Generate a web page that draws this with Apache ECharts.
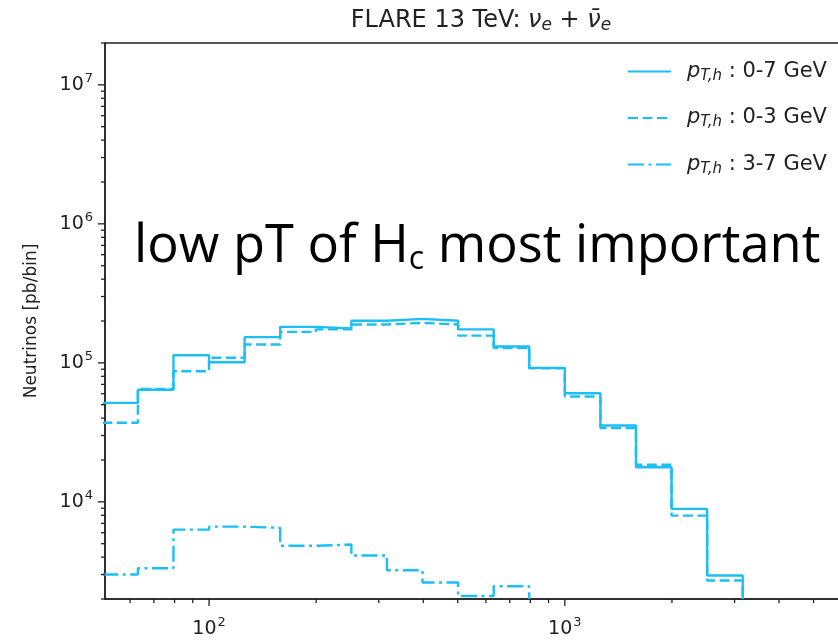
<!DOCTYPE html>
<html><head><meta charset="utf-8">
<script src="https://cdn.jsdelivr.net/npm/echarts@6/dist/echarts.min.js"></script>
<style>html,body{margin:0;padding:0;background:#fff;overflow:hidden}#c{width:838px;height:644px}</style>
</head><body><div id="c"></div>
<script>
// ---- data ----
const binEdges = [50.12, 63.10, 79.43, 100.0, 125.9, 158.5, 199.5, 251.2, 316.2, 398.1, 501.2, 631.0, 794.3, 1000, 1259, 1585, 1995, 2512, 3162];
const pt07 = [51500, 64000, 113500, 101000, 153000, 181500, 177000, 201000, 207000, 201000, 174000, 131000, 92000, 60400, 35400, 17750, 8900, 2950];
const pt03 = [37100, 65000, 87000, 108700, 135500, 167000, 174000, 188700, 194000, 188700, 157000, 128000, 91500, 57300, 34000, 18500, 7960, 2720];
const pt37 = [3000, 3330, 6310, 6630, 6500, 4830, 4930, 4110, 3220, 2630, 2100, 2470];
const seriesNames = ['pT,h : 0-7 GeV', 'pT,h : 0-3 GeV', 'pT,h : 3-7 GeV'];
const rangeLabels = ['0-7 GeV', '0-3 GeV', '3-7 GeV'];
const xRange = [51, 6250];
const yRange = [2000, 2e7];
const xMajorTicks = [100, 1000];
const xMinorTicks = [60, 70, 80, 90, 200, 300, 400, 500, 600, 700, 800, 900, 2000, 3000, 4000, 5000, 6000];
const yMajorTicks = [1e4, 1e5, 1e6, 1e7];
const yMinorMantissa = [2, 3, 4, 5, 6, 7, 8, 9];
const yDecades = [1e3, 1e4, 1e5, 1e6, 1e7];

// ---- helpers ----
const COLOR = '#1cbff3';
const AXC = '#222';
function stepData(vals) {
  const d = vals.map((v, i) => [binEdges[i], v]);
  d.push([binEdges[vals.length], yRange[0]]);
  return d;
}
function decadeLabel(v) {
  const l = Math.log10(v), e = Math.round(l);
  if (Math.abs(l - e) > 1e-6) return '';
  return '{b|10}{s|' + e + '}';
}
const yMinorTicks = [];
yDecades.forEach(d => yMinorMantissa.forEach(m => {
  const v = m * d;
  if (v >= yRange[0] && v <= yRange[1]) yMinorTicks.push(v);
}));
const xTickData = xMajorTicks.map(v => [v, yRange[0], 1]).concat(xMinorTicks.filter(v => v >= xRange[0] && v <= xRange[1]).map(v => [v, yRange[0], 0]));
const yTickData = yMajorTicks.map(v => [xRange[0], v, 1]).concat(yMinorTicks.map(v => [xRange[0], v, 0]));
function tickRenderer(isX) {
  return function (params, api) {
    const p = api.coord([api.value(0), api.value(1)]);
    const len = api.value(2) === 1 ? 7 : 4;
    const shape = isX ? { x1: p[0], y1: p[1], x2: p[0], y2: p[1] + len }
                      : { x1: p[0], y1: p[1], x2: p[0] - len, y2: p[1] };
    return { type: 'line', shape: shape, style: { stroke: AXC, lineWidth: 1.3 } };
  };
}
const labelRich = {
  b: { fontSize: 19, fontFamily: 'DejaVu Sans', color: '#222' },
  s: { fontSize: 13, fontFamily: 'DejaVu Sans', color: '#222', padding: [0, 0, 13, 1] }
};

const chart = echarts.init(document.getElementById('c'), null, { renderer: 'canvas' });
chart.setOption({
  animation: false,
  backgroundColor: '#fff',
  title: {
    text: '{t|FLARE 13 TeV: }{m|ν}{s|e}{t| + }{m|ν\u0304}{s|e}',
    left: 476, top: 2, textAlign: 'center',
    textStyle: {
      fontWeight: 'normal',
      rich: {
        t: { fontSize: 24, fontFamily: 'DejaVu Sans', fontWeight: 'normal', color: '#222' },
        m: { fontSize: 24, fontFamily: 'DejaVu Sans', fontWeight: 'normal', fontStyle: 'italic', color: '#222' },
        s: { fontSize: 17, fontFamily: 'DejaVu Sans', fontWeight: 'normal', fontStyle: 'italic', color: '#222', padding: [10, 0, 0, 0] }
      }
    }
  },
  grid: { left: 105, width: 743, top: 43, bottom: 45, outerBoundsMode: 'none', containLabel: false,
          show: true, borderColor: AXC, borderWidth: 1.5, backgroundColor: '#fff' },
  legend: {
    orient: 'vertical', left: 622, top: 56, itemWidth: 43, itemHeight: 14, itemGap: 24,
    data: seriesNames,
    itemStyle: { color: 'rgba(0,0,0,0)', borderWidth: 0, opacity: 0 },
    formatter: function (name) {
      const i = seriesNames.indexOf(name);
      return '{p|p}{sub|T,h}{t| : ' + rangeLabels[i] + '}';
    },
    textStyle: {
      padding: [0, 0, 0, 11],
      rich: {
        p: { fontSize: 21, fontFamily: 'DejaVu Sans', fontStyle: 'italic', color: '#222' },
        sub: { fontSize: 15, fontFamily: 'DejaVu Sans', fontStyle: 'italic', color: '#222', padding: [9, 0, 0, 0] },
        t: { fontSize: 21, fontFamily: 'DejaVu Sans', color: '#222' }
      }
    }
  },
  xAxis: {
    type: 'log', logBase: 10, min: xRange[0], max: xRange[1],
    axisLine: { show: true, lineStyle: { color: AXC, width: 1.5 } },
    axisTick: { show: false }, splitLine: { show: false }, minorTick: { show: false },
    axisLabel: { margin: 17, formatter: decadeLabel, rich: labelRich, showMinLabel: true, showMaxLabel: true }
  },
  yAxis: {
    type: 'log', logBase: 10, min: yRange[0], max: yRange[1],
    name: 'Neutrinos [pb/bin]', nameLocation: 'middle', nameGap: 65, nameRotate: 90,
    nameTextStyle: { fontSize: 17, fontFamily: 'DejaVu Sans', color: '#222' },
    axisLine: { show: true, lineStyle: { color: AXC, width: 1.5 } },
    axisTick: { show: false }, splitLine: { show: false }, minorTick: { show: false },
    axisLabel: { margin: 12, formatter: decadeLabel, rich: labelRich }
  },
  series: [
    { name: seriesNames[0], type: 'line', step: 'end', symbol: 'none', data: stepData(pt07),
      lineStyle: { color: COLOR, width: 2.4, type: 'solid' }, itemStyle: { color: COLOR }, z: 3 },
    { name: seriesNames[1], type: 'line', step: 'end', symbol: 'none', data: stepData(pt03),
      lineStyle: { color: COLOR, width: 2.4, type: [10, 4.5] }, itemStyle: { color: COLOR }, z: 4 },
    { name: seriesNames[2], type: 'line', step: 'end', symbol: 'none', data: stepData(pt37),
      lineStyle: { color: COLOR, width: 2.4, type: [16, 4.5, 3, 4.5] }, itemStyle: { color: COLOR }, z: 5 },
    { type: 'custom', data: xTickData, encode: { x: 0, y: 1 }, renderItem: tickRenderer(true), clip: false, silent: true, z: 6 },
    { type: 'custom', data: yTickData, encode: { x: 0, y: 1 }, renderItem: tickRenderer(false), clip: false, silent: true, z: 6 }
  ],
  graphic: [{
    type: 'text', left: 134, top: 221, z: 100,
    style: {
      text: '{a|low pT of H}{b|c}{a| most important}',
      rich: {
        a: { fontSize: 52.4, fontFamily: 'Open Sans', fill: '#000', color: '#000' },
        b: { fontSize: 32, fontFamily: 'Open Sans', fill: '#000', color: '#000', padding: [26, 0, 0, 0] }
      }
    }
  }]
});
</script></body></html>
